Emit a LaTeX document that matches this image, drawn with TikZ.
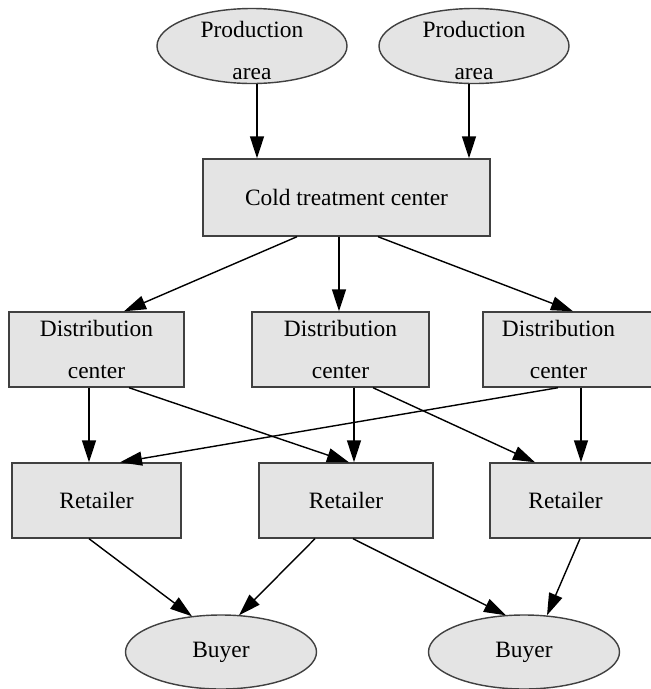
\documentclass[tikz,border=0pt]{standalone}
\usepackage{fontspec}
\setmainfont{Liberation Serif}
\usetikzlibrary{shapes.geometric,arrows.meta,calc}
\definecolor{nodefill}{HTML}{E4E4E4}
\definecolor{nodeline}{HTML}{404040}
\newcommand{\twolines}[2]{\smash{\raisebox{-0.3cm}{%
  \begin{tabular}{@{}c@{}}#1\\#2\end{tabular}}}}

\begin{document}
\begin{tikzpicture}[x=0.03cm, y=-0.03cm,
    place/.style={ellipse, draw=nodeline, fill=nodefill, line width=1.2pt,
      inner sep=0pt, minimum width=5.7cm, minimum height=2.25cm,
      font=\fontsize{20}{36}\selectfont},
    stage/.style={rectangle, draw=nodeline, fill=nodefill, line width=1.2pt,
      inner sep=0pt, minimum height=2.25cm, align=center,
      font=\fontsize{20}{36}\selectfont},
    flow/.style={-{Triangle[length=0.66cm,width=0.42cm]}, line width=1.2pt}
  ]
    \useasboundingbox (0,0) rectangle (651,689);
    \clip (0,0) rectangle (651,689);

    % Nodos
    \node[place] (pa1) at (252,46) {\twolines{Production}{area}};
    \node[place] (pa2) at (474,46) {\twolines{Production}{area}};
    \node[stage, minimum width=8.61cm, minimum height=2.31cm] (cold)
      at (346.5,197.5) {Cold treatment center};
    \node[stage, minimum width=5.25cm] (d1) at (96.5,349.5)
      {Distribution\\center};
    \node[stage, minimum width=5.31cm] (d2) at (340.5,349.5)
      {Distribution\\center};
    \node[stage, minimum width=5.28cm] (d3) at (571,349.5)
      {Distribution\hspace*{0.75cm}\\center\hspace*{0.75cm}};
    \node[stage, minimum width=5.07cm] (r1) at (96.5,500.5) {Retailer};
    \node[stage, minimum width=5.22cm] (r2) at (346,500.5) {Retailer};
    \node[stage, minimum width=5.28cm] (r3) at (578,500.5)
      {Retailer\hspace*{0.75cm}};
    \node[place, minimum width=5.73cm, minimum height=2.22cm] (b1)
      at (221,652) {Buyer};
    \node[place, minimum width=5.73cm, minimum height=2.22cm] (b2)
      at (524,652) {Buyer};

    % Flujos
    \draw[flow] ($(pa1.south)+(5,0)$) -- ($(cold.north)+(-89.5,0)$);
    \draw[flow] ($(pa2.south)+(-5,0)$) -- ($(cold.north)+(122.5,0)$);
    \draw[flow] ($(cold.south)+(-49.5,0)$) -- ($(d1.north)+(27.5,0)$);
    \draw[flow] ($(cold.south)+(-7.5,0)$) -- ($(d2.north)+(-1.5,0)$);
    \draw[flow] ($(cold.south)+(31.5,0)$) -- ($(d3.north)+(2,0)$);
    \draw[flow] ($(d1.south)+(-7.5,0)$) -- ($(r1.north)+(-7.5,0)$);
    \draw[flow] ($(d1.south)+(32.5,0)$) -- ($(r2.north)+(3,0)$);
    \draw[flow] ($(d2.south)+(13.5,0)$) -- ($(r2.north)+(8,0)$);
    \draw[flow] ($(d2.south)+(32.5,0)$) -- ($(r3.north)+(-43,0)$);
    \draw[flow] ($(d3.south)+(-13,0)$) -- ($(r1.north)+(23.5,0)$);
    \draw[flow] ($(d3.south)+(10,0)$) -- ($(r3.north)+(3,0)$);
    \draw[flow] ($(r1.south)+(-7.5,0)$) -- ($(b1.north)+(-29,2)$);
    \draw[flow] ($(r2.south)+(-31,0)$) -- ($(b1.north)+(18,1)$);
    \draw[flow] ($(r2.south)+(7,0)$) -- ($(b2.north)+(-18,1)$);
    \draw[flow] ($(r3.south)+(2,0)$) -- ($(b2.north)+(23,1)$);
  \end{tikzpicture}
\end{document}
